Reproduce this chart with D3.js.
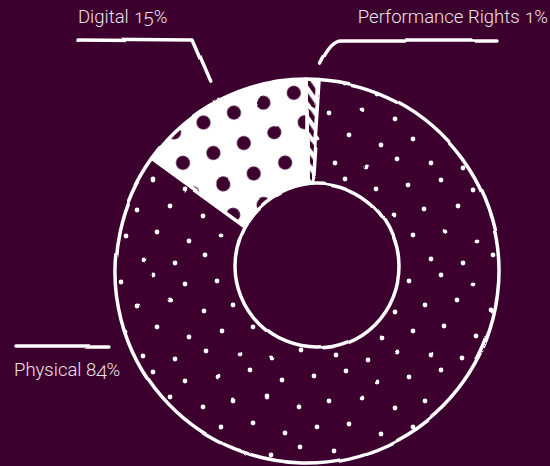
<!DOCTYPE html>
<html>
  <head>
    <meta charset="utf-8">
    <style>
      html, body {
        margin: 0;
        padding: 0;
        background: #3c002f;
      }
      svg {
        display: block;
      }
      .label {
        font-family: Roboto, "Liberation Sans", sans-serif;
        font-weight: 300;
        font-size: 18.5px;
        fill: #efe2ea;
        font-variant-numeric: oldstyle-nums;
      }
    </style>
  </head>
  <body>
    <script src="https://cdn.jsdelivr.net/npm/d3@7"></script>
    <script>
      const width = 550;
      const height = 466;
      const bg = '#3c002f';
      const ink = '#ffffff';

      // clockwise from 12 o'clock
      const categories = ['Performance Rights', 'Physical', 'Digital'];
      const shares = [1, 84, 15];
      const labels = ['Performance Rights 1%', 'Physical 84%', 'Digital 15%'];

      const cx = 307, cy = 271;
      const outerR = 192;

      const svg = d3.select('body')
        .append('svg')
        .attr('width', width)
        .attr('height', height)
        .style('background', bg);

      const defs = svg.append('defs');

      // gentle wobble for the hand-drawn look
      const rough = defs.append('filter')
        .attr('id', 'rough')
        .attr('x', '-10%').attr('y', '-10%')
        .attr('width', '120%').attr('height', '120%');
      rough.append('feTurbulence')
        .attr('type', 'fractalNoise')
        .attr('baseFrequency', 0.012)
        .attr('numOctaves', 1)
        .attr('seed', 7)
        .attr('result', 'noise');
      rough.append('feDisplacementMap')
        .attr('in', 'SourceGraphic')
        .attr('in2', 'noise')
        .attr('scale', 5)
        .attr('xChannelSelector', 'R')
        .attr('yChannelSelector', 'G');

      // physical: scattered small dots
      const sprinkle = defs.append('pattern')
        .attr('id', 'sprinkle')
        .attr('patternUnits', 'userSpaceOnUse')
        .attr('width', 96).attr('height', 96);
      sprinkle.append('rect').attr('width', 96).attr('height', 96).attr('fill', bg);
      const specks = [[6, 10], [38, 4], [70, 14], [22, 34], [55, 30], [88, 40],
        [10, 60], [42, 56], [74, 66], [28, 84], [60, 88], [90, 80]];
      sprinkle.selectAll('circle')
        .data(specks)
        .enter()
        .append('circle')
        .attr('cx', d => d[0])
        .attr('cy', d => d[1])
        .attr('r', 2.4)
        .attr('fill', ink);

      // digital: big dark dots on white
      const dots = defs.append('pattern')
        .attr('id', 'dots')
        .attr('patternUnits', 'userSpaceOnUse')
        .attr('width', 32).attr('height', 32)
        .attr('patternTransform', 'translate(259,87) rotate(-18)');
      dots.append('rect').attr('width', 32).attr('height', 32).attr('fill', ink);
      dots.append('circle').attr('cx', 16).attr('cy', 16).attr('r', 7).attr('fill', bg);

      // performance rights: diagonal hatching
      const hatch = defs.append('pattern')
        .attr('id', 'hatch')
        .attr('patternUnits', 'userSpaceOnUse')
        .attr('width', 9).attr('height', 9)
        .attr('patternTransform', 'rotate(-35)');
      hatch.append('rect').attr('width', 9).attr('height', 9).attr('fill', ink);
      hatch.append('rect').attr('width', 4.5).attr('height', 9).attr('fill', bg);

      const fills = ['url(#hatch)', 'url(#sprinkle)', 'url(#dots)'];

      const pie = d3.pie().sort(null).value(d => d);
      const arcs = pie(shares);
      const arc = d3.arc().innerRadius(0).outerRadius(outerR);

      const chart = svg.append('g')
        .attr('filter', 'url(#rough)');

      const donut = chart.append('g')
        .attr('transform', `translate(${cx},${cy})`);

      donut.selectAll('path')
        .data(arcs)
        .enter()
        .append('path')
        .attr('d', arc)
        .attr('fill', (d, i) => fills[i])
        .attr('stroke', ink)
        .attr('stroke-width', 3.5)
        .attr('stroke-linejoin', 'round');

      // hole, drawn slightly off-centre like the sketch
      chart.append('circle')
        .attr('cx', cx + 10)
        .attr('cy', cy - 5)
        .attr('r', 82)
        .attr('fill', bg)
        .attr('stroke', ink)
        .attr('stroke-width', 3.5);

      // leader lines and labels
      const leaderR = 212;
      const at = (angle, r) => [cx + r * Math.sin(angle), cy - r * Math.cos(angle)];
      const lineGen = d3.line().curve(d3.curveLinear);

      const leaders = chart.append('g')
        .attr('fill', 'none')
        .attr('stroke', ink)
        .attr('stroke-width', 3.5)
        .attr('stroke-linecap', 'round')
        .attr('stroke-linejoin', 'round');

      // Digital
      const dArc = arcs[2];
      const dMid = (dArc.startAngle + dArc.endAngle) / 2;
      const dEnd = at(dMid, leaderR);
      leaders.append('path')
        .attr('d', lineGen([[78, 40], [193, 41], dEnd]));

      // Performance Rights
      const pArc = arcs[0];
      const pMid = (pArc.startAngle + pArc.endAngle) / 2;
      const pEnd = at(pMid, leaderR - 4);
      leaders.append('path')
        .attr('d', `M497,41 L340,41 Q330,41 ${pEnd[0] + 6},${pEnd[1]}`);

      // Physical (leader on the left flank)
      const phEnd = at(Math.PI * 2 * 0.692, leaderR);
      leaders.append('path')
        .attr('d', lineGen([[16, 346], [phEnd[0], 346]]));

      const textG = svg.append('g');
      textG.append('text')
        .attr('class', 'label')
        .attr('x', 78).attr('y', 23)
        .text(labels[2]);
      textG.append('text')
        .attr('class', 'label')
        .attr('x', 548).attr('y', 23)
        .attr('text-anchor', 'end')
        .text(labels[0]);
      textG.append('text')
        .attr('class', 'label')
        .attr('x', 14).attr('y', 376)
        .text(labels[1]);
    </script>
  </body>
</html>
